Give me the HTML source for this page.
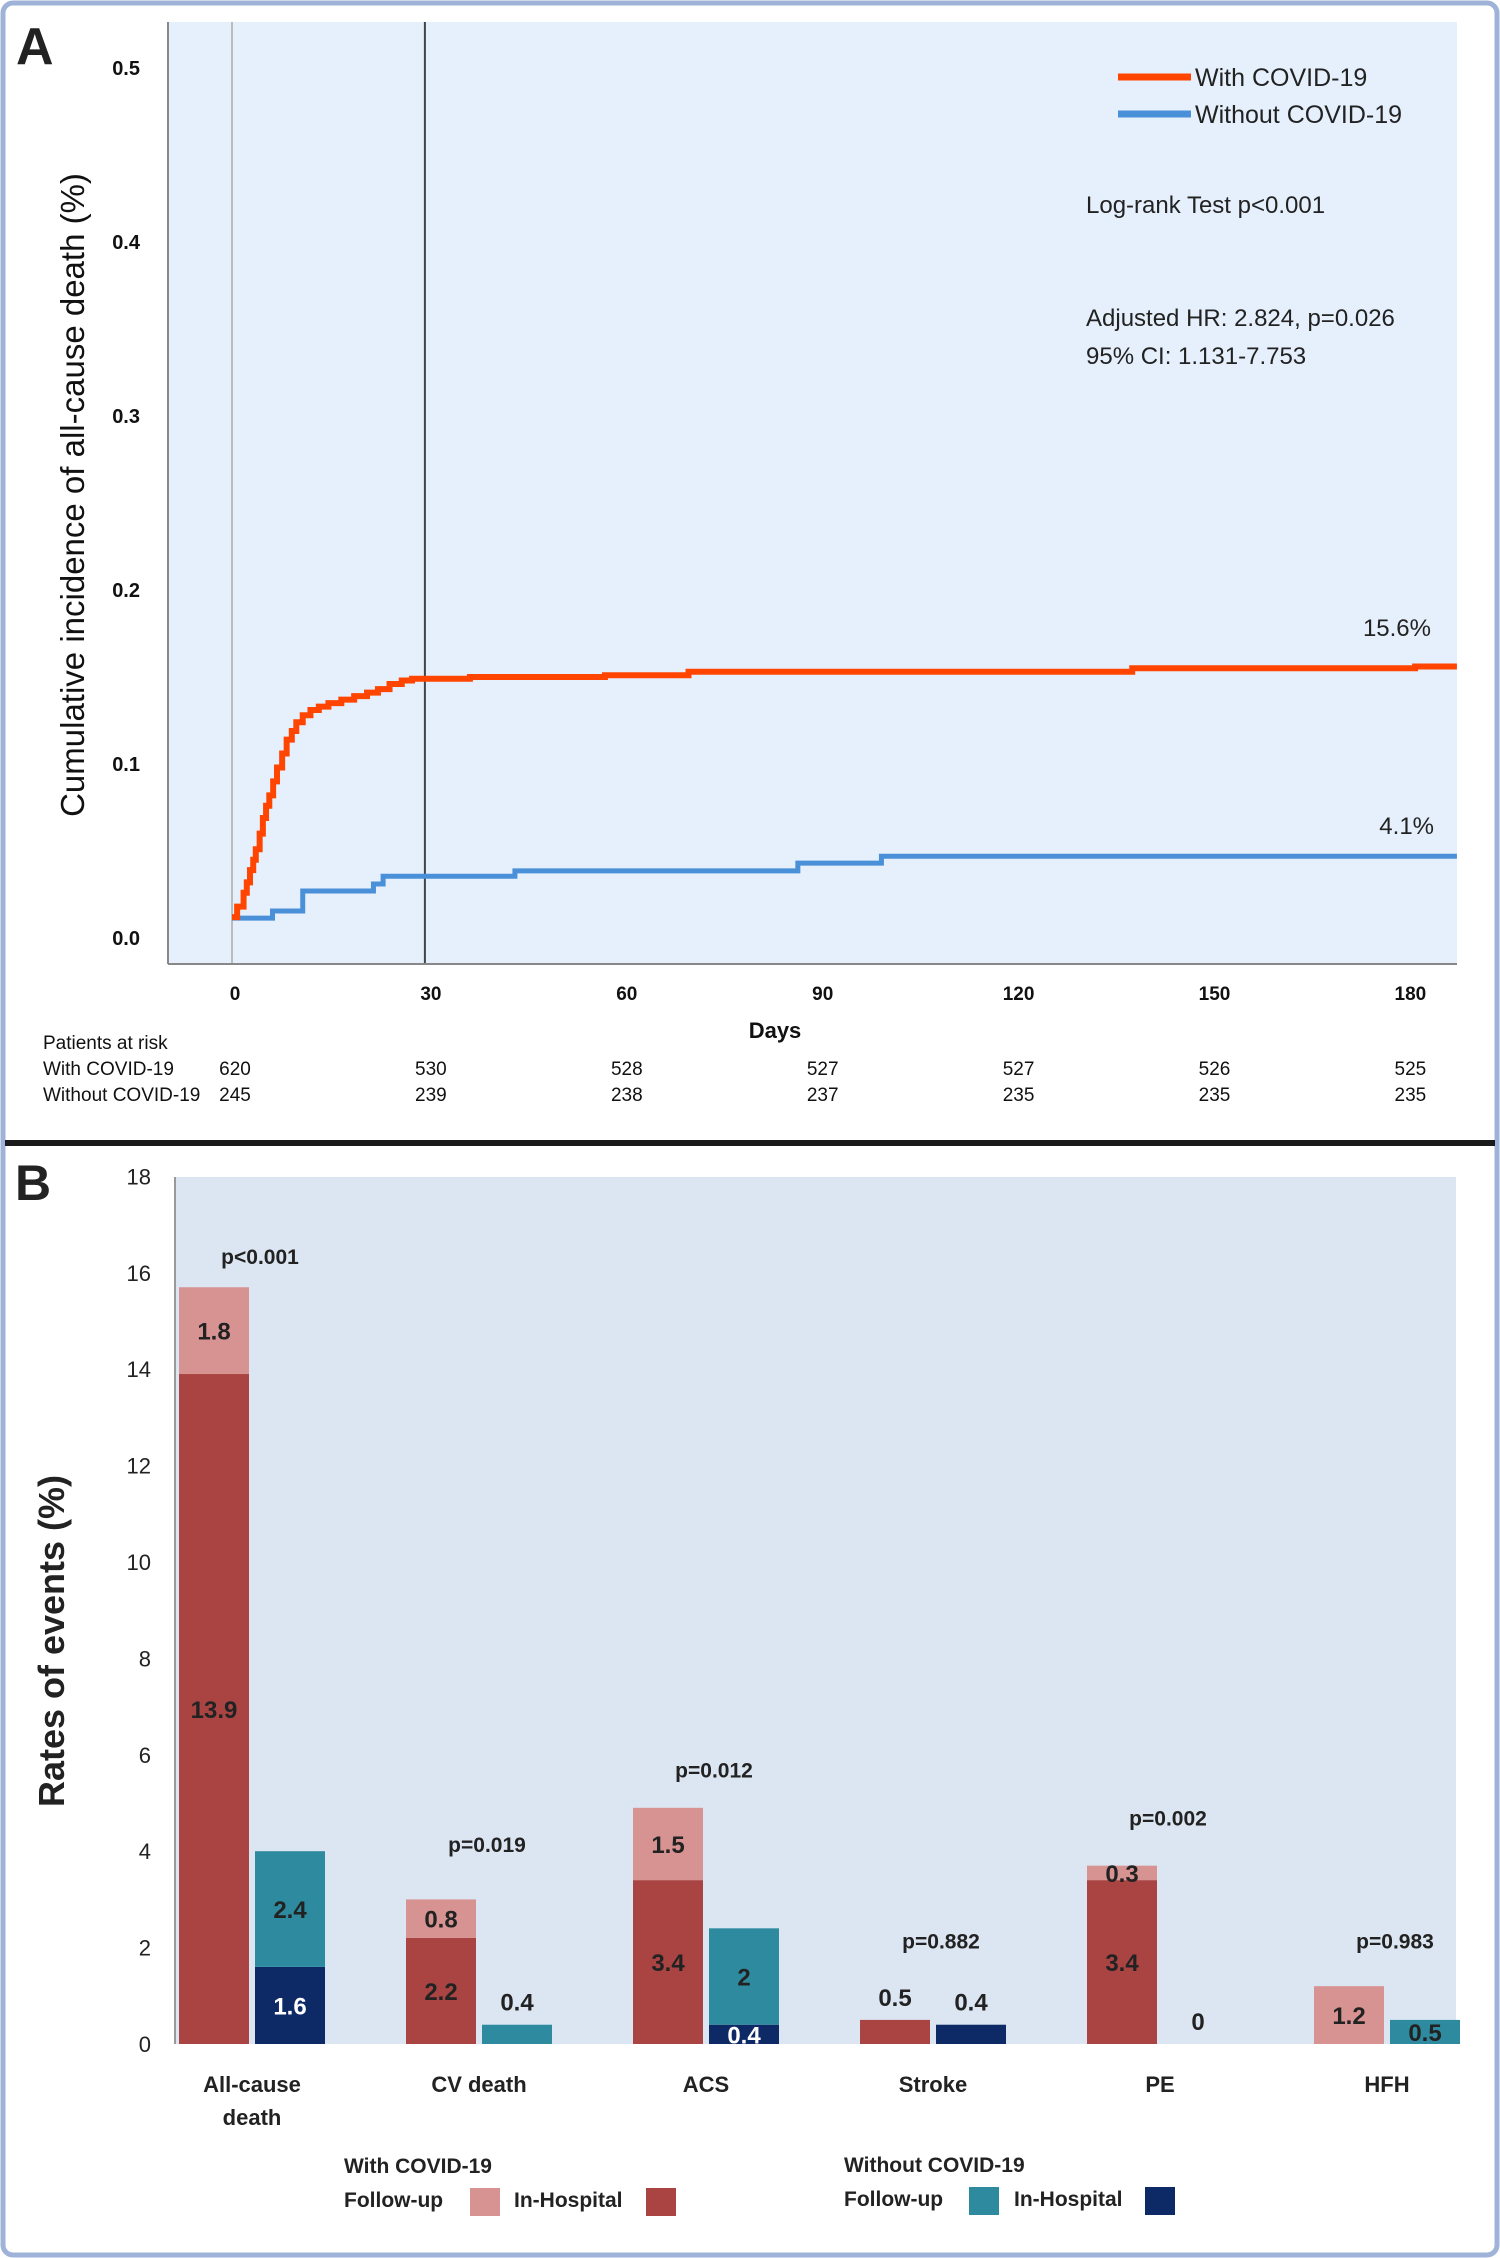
<!DOCTYPE html>
<html><head><meta charset="utf-8"><style>
html,body{margin:0;padding:0;background:#fff;}
svg{display:block;font-family:"Liberation Sans",sans-serif;}
</style></head><body>
<svg id="chart" width="1500" height="2258" viewBox="0 0 1500 2258" xmlns="http://www.w3.org/2000/svg">
<rect x="3" y="3" width="1494" height="2252" rx="10" fill="#fff" stroke="#9fb3d9" stroke-width="5"/>
<g id="panelA">
<rect x="168" y="22" width="1289" height="941" fill="#e5f0fc"/>
<text x="16" y="64" font-size="52" font-weight="bold" fill="#222">A</text>
<line x1="168" y1="22" x2="168" y2="964" stroke="#888" stroke-width="2"/>
<line x1="168" y1="964" x2="1457" y2="964" stroke="#888" stroke-width="2"/>
<text transform="translate(84,495) rotate(-90)" text-anchor="middle" font-size="33" fill="#111">Cumulative incidence of all-cause death (%)</text>
<text x="775" y="1038" text-anchor="middle" font-size="22" font-weight="bold" fill="#111">Days</text>
<line x1="1118" y1="77" x2="1191" y2="77" stroke="#ff4500" stroke-width="7"/>
<text x="1195" y="86" font-size="25" fill="#222">With COVID-19</text>
<line x1="1118" y1="114" x2="1191" y2="114" stroke="#4a90d9" stroke-width="7"/>
<text x="1195" y="123" font-size="25" fill="#222">Without COVID-19</text>
<text x="1086" y="213" font-size="24" fill="#222">Log-rank Test p&lt;0.001</text>
<text x="1086" y="326" font-size="24" fill="#222">Adjusted HR: 2.824, p=0.026</text>
<text x="1086" y="364" font-size="24" fill="#222">95% CI: 1.131-7.753</text>
<text x="1431" y="636" text-anchor="end" font-size="24" fill="#222">15.6%</text>
<text x="1434" y="834" text-anchor="end" font-size="24" fill="#222">4.1%</text>
<text x="43" y="1049" font-size="19" fill="#111">Patients at risk</text>
<text x="43" y="1075" font-size="19" fill="#111">With COVID-19</text>
<text x="43" y="1101" font-size="19" fill="#111">Without COVID-19</text>
</g>
<rect x="5" y="1140" width="1490" height="6" fill="#1a1a1a"/>
<g id="panelB">
<rect x="175" y="1177" width="1281" height="867" fill="#dce6f2"/>
<line x1="175" y1="1177" x2="175" y2="2044" stroke="#999" stroke-width="2"/>
<text x="15" y="1200" font-size="50" font-weight="bold" fill="#222">B</text>
<text transform="translate(64,1641) rotate(-90)" text-anchor="middle" font-size="36" font-weight="bold" fill="#222">Rates of events  (%)</text>
<text x="344" y="2173" font-size="21" font-weight="bold" fill="#222">With COVID-19</text>
<text x="344" y="2207" font-size="21" font-weight="bold" fill="#222">Follow-up</text>
<rect x="470" y="2188" width="30" height="28" fill="#d79392"/>
<text x="514" y="2207" font-size="21" font-weight="bold" fill="#222">In-Hospital</text>
<rect x="646" y="2188" width="30" height="28" fill="#a94442"/>
<text x="844" y="2172" font-size="21" font-weight="bold" fill="#222">Without COVID-19</text>
<text x="844" y="2206" font-size="21" font-weight="bold" fill="#222">Follow-up</text>
<rect x="969" y="2187" width="30" height="28" fill="#2e8a9e"/>
<text x="1014" y="2206" font-size="21" font-weight="bold" fill="#222">In-Hospital</text>
<rect x="1145" y="2187" width="30" height="28" fill="#0e2a66"/>
</g>
</svg>
<script>
// ---- Panel A data ----
const kmTicksY = [0.0, 0.1, 0.2, 0.3, 0.4, 0.5];
const kmTicksX = [0, 30, 60, 90, 120, 150, 180];
const redDays = [0,0.8,1.8,2.3,2.8,3.3,3.7,4.3,4.8,5.3,5.8,6.4,7,7.8,8.5,9.3,10,11,12.2,13.5,15,17,19,21,22.7,24.5,26.4,28,30,37,58,71,140,184,190.5];
const redVals = [0.012,0.018,0.026,0.032,0.039,0.045,0.051,0.06,0.069,0.076,0.082,0.09,0.098,0.106,0.114,0.119,0.124,0.128,0.131,0.133,0.135,0.137,0.139,0.141,0.143,0.146,0.148,0.149,0.149,0.150,0.151,0.153,0.155,0.156,0.156];
const blueDays = [0,6.3,11,22,23.5,44,88,101,190.5];
const blueVals = [0.0114,0.0155,0.027,0.031,0.0355,0.0386,0.043,0.047,0.047];
const riskWith = [620,530,528,527,527,526,525];
const riskWithout = [245,239,238,237,235,235,235];
// ---- Panel B data ----
const categories = [["All-cause","death"],["CV death"],["ACS"],["Stroke"],["PE"],["HFH"]];
const withInHosp = [13.9,2.2,3.4,0.5,3.4,0];
const withFollow = [1.8,0.8,1.5,0,0.3,1.2];
const woInHosp = [1.6,0,0.4,0.4,0,0];
const woFollow = [2.4,0.4,2,0,0,0.5];
const pLabels = ["p<0.001","p=0.019","p=0.012","p=0.882","p=0.002","p=0.983"];
const pHeights = [16.35,4.15,5.7,2.15,4.7,2.15];
const barTicks = [0,2,4,6,8,10,12,14,16,18];

const NS="http://www.w3.org/2000/svg";
function mk(tag, attrs, parent, txt){const e=document.createElementNS(NS,tag);for(const k in attrs)e.setAttribute(k,attrs[k]);if(txt!==undefined)e.textContent=txt;parent.appendChild(e);return e;}
const A=document.getElementById('panelA'), B=document.getElementById('panelB');
const xA = d => 232 + d*6.43;
const xLab = d => 235 + d*6.53;
const yA = v => 938 - v*1740;

kmTicksY.forEach(v=>{
  const t=mk('text',{x:140,y:yA(v)+7,'text-anchor':'end','font-size':20,'font-weight':'bold',fill:'#111'},A,v.toFixed(1));
  
  
});
kmTicksX.forEach((d,i)=>{
  const t=mk('text',{x:xLab(d),y:1000,'text-anchor':'middle','font-size':19,'font-weight':'bold',fill:'#111'},A,String(d));
  
  
  const r1=mk('text',{x:xLab(d),y:1075,'text-anchor':'middle','font-size':19,fill:'#111'},A,String(riskWith[i]));
  
  
  const r2=mk('text',{x:xLab(d),y:1101,'text-anchor':'middle','font-size':19,fill:'#111'},A,String(riskWithout[i]));
  
  
});
const l0=mk('line',{x1:xA(0),y1:22,x2:xA(0),y2:963,stroke:'#bbb','stroke-width':2},A);


const l30=mk('line',{x1:xA(30),y1:22,x2:xA(30),y2:963,stroke:'#444','stroke-width':2},A);


function stepPath(ds,vs){let p='M'+xA(ds[0])+','+yA(vs[0]);for(let i=1;i<ds.length;i++){p+=' H'+xA(ds[i])+' V'+yA(vs[i]);}return p;}
const pb=mk('path',{d:stepPath(blueDays,blueVals),fill:'none',stroke:'#4a90d9','stroke-width':5},A);


const pr=mk('path',{d:stepPath(redDays,redVals),fill:'none',stroke:'#ff4500','stroke-width':6},A);



// Panel B
const yB = v => 2044 - v*48.2;
const band = i => 179 + i*227;
const bw = 70;
barTicks.forEach(v=>{
  const t=mk('text',{x:151,y:yB(v)+8,'text-anchor':'end','font-size':22,fill:'#222'},B,String(v));
  
  
});
function seg(x,v0,v1,color,name){
  if(v1<=0)return;
  const r=mk('rect',{x:x,y:yB(v0+v1),width:bw,height:yB(v0)-yB(v0+v1),fill:color},B);
  
  
}
function lab(x,y,txt,color){
  const t=mk('text',{x:x+bw/2,y:y,'text-anchor':'middle','font-size':24,'font-weight':'bold',fill:color},B,txt);
  
  
}
categories.forEach((c,i)=>{
  const xr=band(i), xb=band(i)+bw+6;
  seg(xr,0,withInHosp[i],'#a94442','bar-with-inhospital');
  seg(xr,withInHosp[i],withFollow[i],'#d79392','bar-with-followup');
  seg(xb,0,woInHosp[i],'#0e2a66','bar-without-inhospital');
  seg(xb,woInHosp[i],woFollow[i],'#2e8a9e','bar-without-followup');
  const wOnly = (withInHosp[i]>0?1:0)+(withFollow[i]>0?1:0);
  if(withInHosp[i]>0){
    if(wOnly===1 && withInHosp[i]<1) lab(xr,yB(withInHosp[i])-14,String(withInHosp[i]),'#222');
    else lab(xr,yB(withInHosp[i]/2)+9,String(withInHosp[i]),'#222');
  }
  if(withFollow[i]>0) lab(xr,yB(withInHosp[i]+withFollow[i]/2)+9,String(withFollow[i]),'#222');
  const oOnly=(woInHosp[i]>0?1:0)+(woFollow[i]>0?1:0);
  if(oOnly===0) lab(xb,yB(0)-14,'0','#222');
  if(woInHosp[i]>0){
    if(oOnly===1 && woInHosp[i]<0.5) lab(xb,yB(woInHosp[i])-14,String(woInHosp[i]),'#222');
    else lab(xb,yB(woInHosp[i]/2)+9,String(woInHosp[i]),'#fff');
  }
  if(woFollow[i]>0){
    if(oOnly===1 && woFollow[i]<0.5) lab(xb,yB(woFollow[i])-14,String(woFollow[i]),'#222');
    else lab(xb,yB(woInHosp[i]+woFollow[i]/2)+9,String(woFollow[i]),'#222');
  }
  const cx=band(i)+73;
  c.forEach((line,j)=>{
    const t=mk('text',{x:cx,y:2092+j*33,'text-anchor':'middle','font-size':22,'font-weight':'bold',fill:'#222'},B,line);
    
    
  });
  const p=mk('text',{x:cx+8,y:yB(pHeights[i])+8,'text-anchor':'middle','font-size':21,'font-weight':'bold',fill:'#222'},B,pLabels[i]);
  
  
});
</script>
</body></html>
